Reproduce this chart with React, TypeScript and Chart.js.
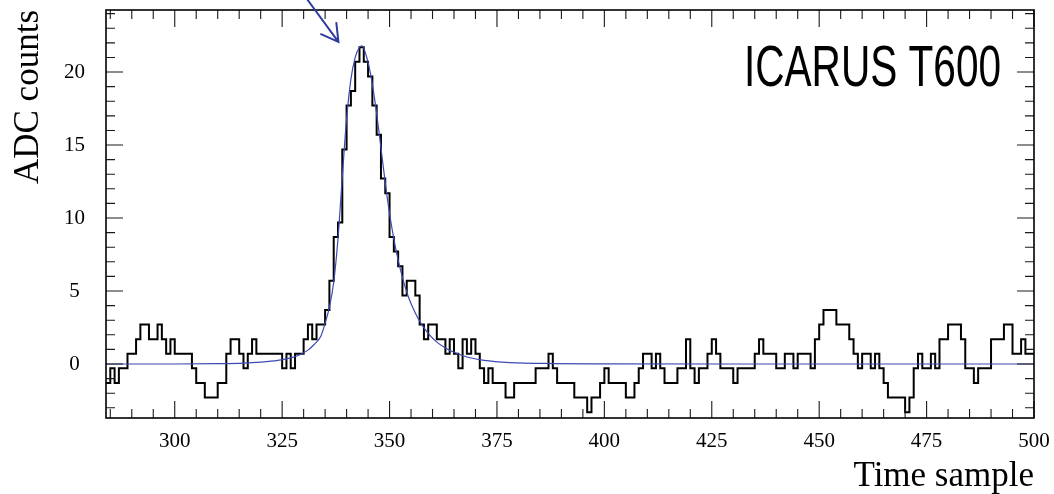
import React, { useEffect, useRef } from "react";
import { Chart, registerables } from "chart.js";

Chart.register(...registerables);

// Pedestal-subtracted ADC counts, one value per time sample starting at FIRST_SAMPLE.
const FIRST_SAMPLE = 284;
const LAST_SAMPLE = 500;
const adcCounts = [
  -1.3, -0.3, -1.3, -0.3, -0.3, 0.7, 0.7, 1.7, 2.7, 2.7,
  1.7, 1.7, 2.7, 1.7, 0.7, 1.7, 0.7, 0.7, 0.7, 0.7,
  -0.3, -1.3, -1.3, -2.3, -2.3, -2.3, -1.3, -1.3, 0.7, 1.7,
  1.7, 0.7, -0.3, 0.7, 1.7, 0.7, 0.7, 0.7, 0.7, 0.7,
  0.7, -0.3, 0.7, -0.3, 0.7, 0.7, 1.7, 2.7, 1.7, 2.7,
  2.7, 3.7, 5.7, 8.7, 9.7, 14.7, 17.7, 18.7, 20.7, 21.7,
  20.7, 19.7, 17.7, 15.7, 12.7, 11.7, 8.7, 7.7, 6.7, 4.7,
  5.7, 5.7, 4.7, 2.7, 1.7, 2.7, 2.7, 1.7, 1.7, 0.7,
  1.7, 0.7, -0.3, 1.7, 0.7, 1.7, 0.7, -0.3, -1.3, -0.3,
  -1.3, -1.3, -1.3, -2.3, -2.3, -1.3, -1.3, -1.3, -1.3, -1.3,
  -0.3, -0.3, -0.3, 0.7, -0.3, -1.3, -1.3, -1.3, -1.3, -2.3,
  -2.3, -2.3, -3.3, -2.3, -2.3, -1.3, -0.3, -1.3, -1.3, -1.3,
  -1.3, -2.3, -2.3, -1.3, -0.3, 0.7, 0.7, -0.3, 0.7, -0.3,
  -1.3, -1.3, -1.3, -0.3, -0.3, 1.7, -0.3, -1.3, -0.3, -0.3,
  0.7, 1.7, 0.7, -0.3, -0.3, -0.3, -1.3, -0.3, -0.3, -0.3,
  -0.3, 0.7, 1.7, 0.7, 0.7, 0.7, -0.3, -0.3, 0.7, 0.7,
  -0.3, 0.7, 0.7, 0.7, -0.3, 1.7, 2.7, 3.7, 3.7, 3.7,
  2.7, 2.7, 2.7, 1.7, 0.7, -0.3, 0.7, 0.7, -0.3, 0.7,
  -0.3, -1.3, -2.3, -2.3, -2.3, -2.3, -3.3, -2.3, -0.3, 0.7,
  -0.3, -0.3, 0.7, -0.3, 1.7, 1.7, 2.7, 2.7, 2.7, 1.7,
  -0.3, -0.3, -1.3, -0.3, -0.3, -0.3, 1.7, 1.7, 1.7, 2.7,
  2.7, 0.7, 0.7, 1.7, 0.7, 0.7,
];

// Fitted signal shape, sampled along the time axis.
const fitTime = [
  284, 300, 310, 316, 320, 324, 327, 329, 331, 332.5, 334, 335, 336, 337, 338,
  339, 340, 341, 342, 343, 343.6, 344.5, 345.5, 346.5, 347.5, 348.5, 349.5,
  350.5, 351.5, 352.5, 353.5, 354.5, 355.5, 356.5, 357.5, 359, 361, 363, 365,
  368, 372, 378, 388, 400, 430, 500,
];
const fitAdc = [
  0, 0, 0.02, 0.06, 0.13, 0.25, 0.42, 0.62, 0.95, 1.35, 1.9, 2.8, 3.9, 5.6, 8.6,
  12.8, 16.8, 19.5, 21.0, 21.7, 21.8, 21.2, 20.0, 18.2, 16.0, 13.6, 11.3,
  9.4, 7.8, 6.5, 5.4, 4.5, 3.8, 3.2, 2.7, 2.1, 1.5, 1.1, 0.8,
  0.48, 0.25, 0.1, 0.03, 0.01, 0, 0,
];

const xTickValues = [300, 325, 350, 375, 400, 425, 450, 475, 500];
const yTickValues = [0, 5, 10, 15, 20];
const X_MIN = 284;
const X_MAX = 500;
const Y_MIN = -3.7;
const Y_MAX = 24.25;
const X_MINOR_STEP = 5;
const X_MAJOR_STEP = 25;
const Y_MINOR_STEP = 1;
const Y_MAJOR_STEP = 5;

const xTitle = "Time sample";
const yTitle = "ADC counts";
const detectorLabel = "ICARUS T600";

// Arrow pointing at the signal peak (tail starts above the frame).
const arrowTail = { t: 330.9, adc: 24.95 };
const arrowTip = { t: 338.1, adc: 22.07 };

const SERIF = "'Liberation Serif', 'Times New Roman', serif";
const SANS = "'Liberation Sans', Arial, Helvetica, sans-serif";

const framePlugin = {
  id: "rootFrame",
  afterDatasetsDraw(chart: any) {
    const { ctx, chartArea: a, scales } = chart;
    const xs = scales.x;
    const ys = scales.y;
    ctx.save();
    ctx.strokeStyle = "#1a1a1a";
    ctx.lineWidth = 1.1;
    ctx.beginPath();
    const firstX = Math.ceil(X_MIN / X_MINOR_STEP) * X_MINOR_STEP;
    for (let t = firstX; t <= X_MAX; t += X_MINOR_STEP) {
      const px = xs.getPixelForValue(t);
      const len = t % X_MAJOR_STEP === 0 ? 17 : 9;
      ctx.moveTo(px, a.bottom);
      ctx.lineTo(px, a.bottom - len);
      ctx.moveTo(px, a.top);
      ctx.lineTo(px, a.top + len);
    }
    const firstY = Math.ceil(Y_MIN / Y_MINOR_STEP) * Y_MINOR_STEP;
    for (let v = firstY; v <= Y_MAX; v += Y_MINOR_STEP) {
      const py = ys.getPixelForValue(v);
      const len = v % Y_MAJOR_STEP === 0 ? 17 : 9;
      ctx.moveTo(a.left, py);
      ctx.lineTo(a.left + len, py);
      ctx.moveTo(a.right, py);
      ctx.lineTo(a.right - len, py);
    }
    ctx.stroke();
    ctx.strokeStyle = "#000";
    ctx.lineWidth = 1.6;
    ctx.strokeRect(a.left, a.top, a.right - a.left, a.bottom - a.top);
    ctx.restore();
  },
};

const annotationPlugin = {
  id: "peakAnnotations",
  afterDraw(chart: any) {
    const { ctx, chartArea: a, scales } = chart;
    const xs = scales.x;
    const ys = scales.y;
    ctx.save();

    // arrow to the peak
    const tx = xs.getPixelForValue(arrowTip.t);
    const ty = ys.getPixelForValue(arrowTip.adc);
    const sx = xs.getPixelForValue(arrowTail.t);
    const sy = ys.getPixelForValue(arrowTail.adc);
    const back = Math.atan2(sy - ty, sx - tx);
    const head = 19;
    const spread = (30 * Math.PI) / 180;
    ctx.strokeStyle = "#2e3c9e";
    ctx.lineWidth = 2;
    ctx.lineCap = "round";
    ctx.beginPath();
    ctx.moveTo(sx, sy);
    ctx.lineTo(tx, ty);
    ctx.moveTo(tx + head * Math.cos(back - spread), ty + head * Math.sin(back - spread));
    ctx.lineTo(tx, ty);
    ctx.lineTo(tx + head * Math.cos(back + spread), ty + head * Math.sin(back + spread));
    ctx.stroke();

    // detector label, condensed sans
    ctx.fillStyle = "#000";
    ctx.font = `57px ${SANS}`;
    ctx.textBaseline = "alphabetic";
    ctx.textAlign = "left";
    const w = ctx.measureText(detectorLabel).width;
    const target = 257;
    const right = a.right - 33;
    ctx.translate(right - target, a.top + 75.5);
    ctx.scale(target / w, 1);
    ctx.fillText(detectorLabel, 0, 0);
    ctx.restore();
  },
};

export default function App() {
  const canvasRef = useRef<HTMLCanvasElement>(null);

  useEffect(() => {
    const canvas = canvasRef.current;
    if (!canvas) return;

    const histogram = adcCounts.map((v, i) => ({ x: FIRST_SAMPLE + i, y: v }));
    histogram.push({ x: LAST_SAMPLE, y: adcCounts[adcCounts.length - 1] });
    const fit = fitTime.map((t, i) => ({ x: t, y: fitAdc[i] }));

    const chart = new Chart(canvas, {
      type: "line",
      data: {
        datasets: [
          {
            label: "fit",
            data: fit,
            borderColor: "#3d49b2",
            borderWidth: 1.2,
            pointRadius: 0,
            fill: false,
            cubicInterpolationMode: "monotone",
            order: 0,
          },
          {
            label: "ADC",
            data: histogram,
            borderColor: "#000",
            borderWidth: 2,
            pointRadius: 0,
            fill: false,
            stepped: "before",
            order: 1,
          },
        ],
      },
      options: {
        animation: false,
        responsive: false,
        devicePixelRatio: 1,
        events: [],
        layout: { padding: { top: 10, right: 20, left: 0, bottom: 0 } },
        plugins: {
          legend: { display: false },
          tooltip: { enabled: false },
        },
        scales: {
          x: {
            type: "linear",
            min: X_MIN,
            max: X_MAX,
            grid: { display: false, drawTicks: false },
            border: { display: false },
            afterBuildTicks: (s: any) => {
              s.ticks = xTickValues.map((value) => ({ value }));
            },
            afterFit: (s: any) => {
              s.height = 76;
              s.paddingLeft = 0;
              s.paddingRight = 0;
            },
            ticks: {
              color: "#000",
              padding: 11,
              maxRotation: 0,
              autoSkip: false,
              font: { family: SERIF, size: 21 },
            },
            title: {
              display: true,
              text: xTitle,
              align: "end",
              color: "#000",
              font: { family: SERIF, size: 35, lineHeight: 1 },
              padding: { top: 0, bottom: 0 },
            },
          },
          y: {
            type: "linear",
            min: Y_MIN,
            max: Y_MAX,
            grid: { display: false, drawTicks: false },
            border: { display: false },
            afterBuildTicks: (s: any) => {
              s.ticks = yTickValues.map((value) => ({ value }));
            },
            afterFit: (s: any) => {
              s.width = 106;
              s.paddingTop = 0;
              s.paddingBottom = 0;
            },
            ticks: {
              color: "#000",
              padding: 21,
              crossAlign: "center",
              autoSkip: false,
              font: { family: SERIF, size: 21 },
            },
            title: {
              display: true,
              text: yTitle,
              align: "end",
              color: "#000",
              font: { family: SERIF, size: 35, lineHeight: 1 },
              padding: { top: 11, bottom: 0 },
            },
          },
        },
      },
      plugins: [framePlugin, annotationPlugin],
    } as any);

    return () => chart.destroy();
  }, []);

  return (
    <div
      style={{
        position: "fixed",
        left: 0,
        top: 0,
        width: 1054,
        height: 494,
        background: "#fff",
      }}
    >
      <canvas
        ref={canvasRef}
        width={1054}
        height={494}
        style={{ display: "block", width: 1054, height: 494 }}
      />
    </div>
  );
}
